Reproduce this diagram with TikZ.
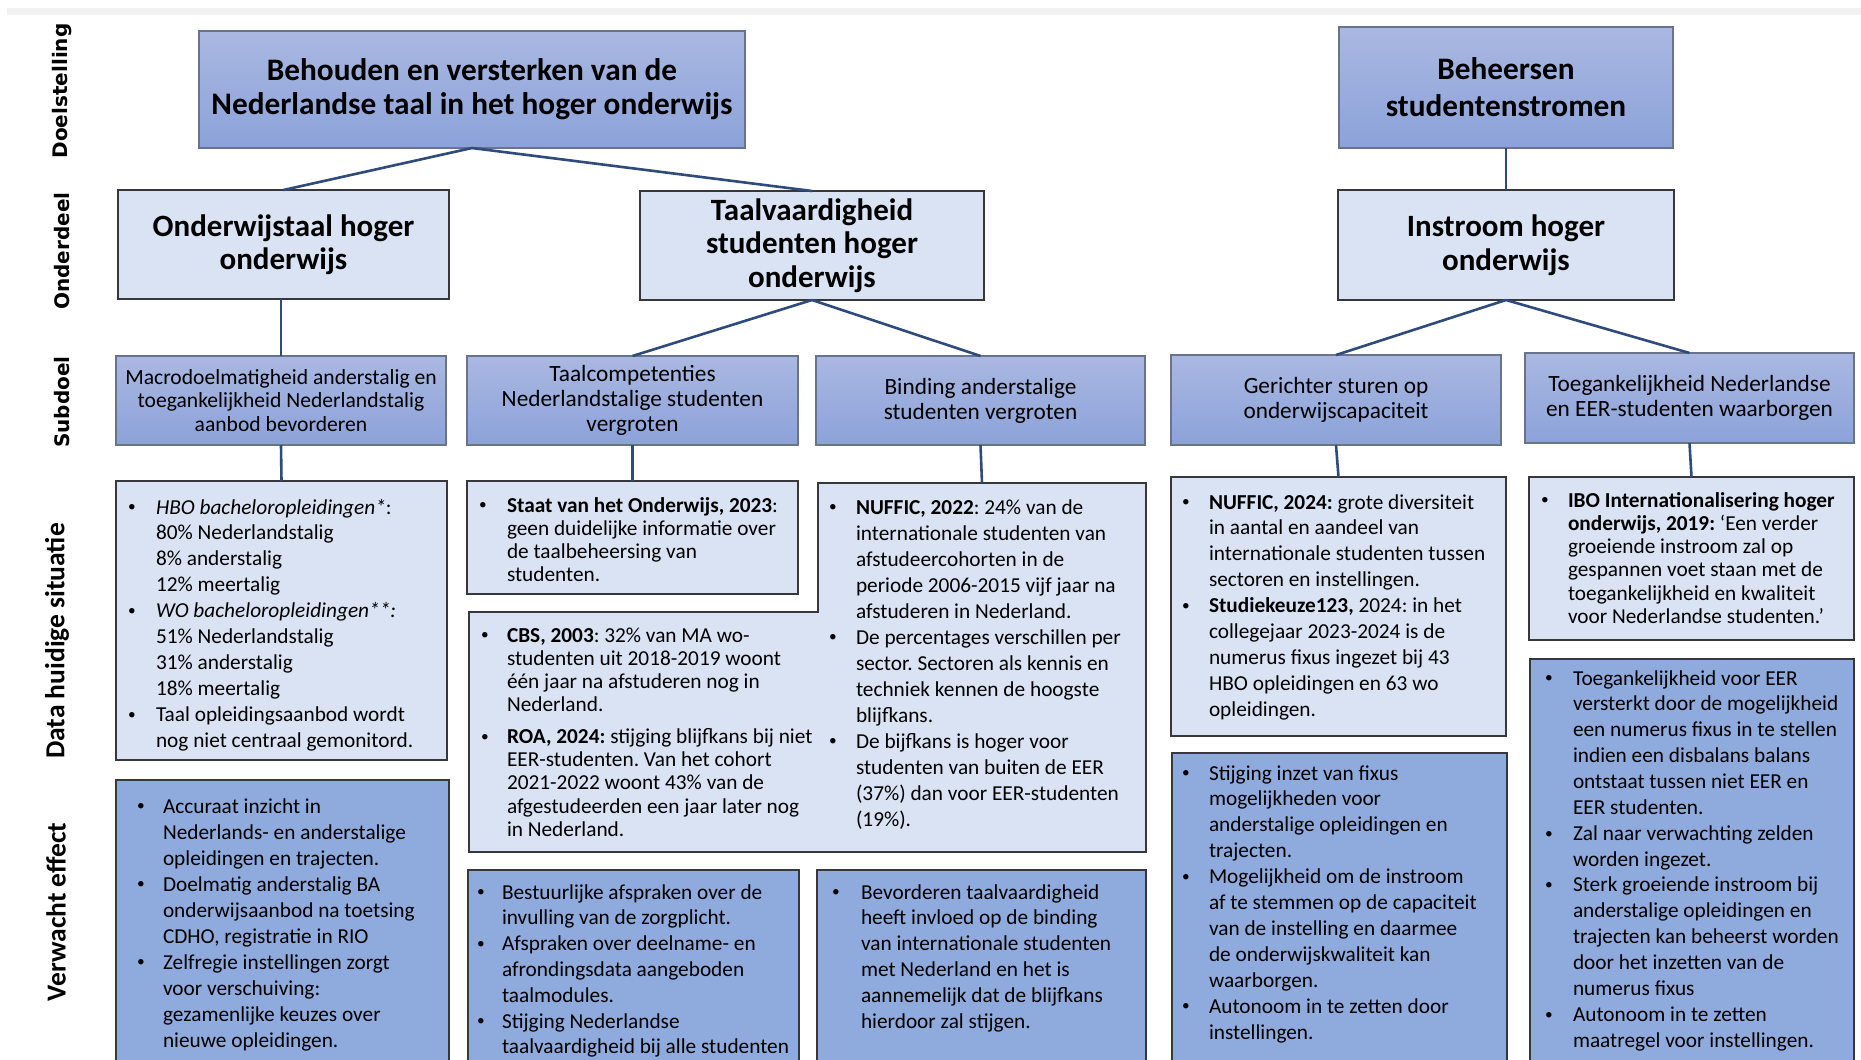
\documentclass[tikz,border=0pt]{standalone}
\usepackage{graphicx}
\usepackage{fontspec}
\setmainfont{Carlito}
\newfontfamily\rowfont{DejaVu Sans}
\definecolor{navy}{RGB}{47,75,124}
\definecolor{gtop}{RGB}{170,184,225}
\definecolor{gbot}{RGB}{139,162,217}
\definecolor{gbord}{RGB}{105,115,140}
\definecolor{lightfill}{RGB}{218,227,243}
\definecolor{efffill}{RGB}{143,170,220}
\definecolor{dbord}{RGB}{55,55,60}
\tikzset{
  gradbox/.style={draw=gbord, line width=1.5pt, top color=gtop, bottom color=gbot},
  lightbox/.style={draw=dbord, line width=2pt, fill=lightfill},
  effbox/.style={draw=dbord, line width=2pt, fill=efffill},
  conn/.style={draw=navy, line width=2.6pt},
  titlef/.style={font=\fontsize{31.3}{34}\selectfont\bfseries},
  titlefb/.style={font=\fontsize{31.3}{37}\selectfont\bfseries},
  partf/.style={font=\fontsize{31}{33.5}\selectfont\bfseries},
  subf/.style={font=\fontsize{23.3}{25}\selectfont},
  subfs/.style={font=\fontsize{21.6}{23.3}\selectfont},
  rowa/.style={font=\rowfont\bfseries\fontsize{20}{22}\selectfont, rotate=90},
  rowb/.style={font=\bfseries\fontsize{27.5}{30}\selectfont, rotate=90}
}
\newcommand{\bul}{\raisebox{0.1em}{\scalebox{0.72}{•}}}
% box: style, name, x1, y1, x2, y2, text
\newcommand{\bx}[7]{\node[#1, anchor=north west, minimum width={(#5-#3)*1pt}, minimum height={(#6-#4)*1pt}, align=center] (#2) at (#3,#4) {#7};}
% bullet list: name, x origin, baseline, leading, bullet column width, rows
\newcommand{\blist}[6]{\node[anchor=base west] (#1) at (#2,#3) {\fontsize{21.3}{#4}\selectfont\frenchspacing\begin{tabular}[t]{@{}p{#5pt}@{}l@{}}#6\end{tabular}};}
\begin{document}
\begin{tikzpicture}[x=1pt,y=-1pt, every node/.style={inner sep=0pt, outer sep=0pt}]
\useasboundingbox (0,0) rectangle (1861,1060);
\fill[white] (0,0) rectangle (1861,1060);
\fill[gray!11] (7,8) rectangle (1861,15);

% row labels
\node[rowa] (l1) at (62,91) {Doelstelling};
\node[rowa] (l2) at (62,251) {Onderdeel};
\node[rowa] (l3) at (62,402) {Subdoel};
\node[rowb] (l4) at (57,641) {Data huidige situatie};
\node[rowb] (l5) at (56,912) {Verwacht effect};

% top level
\bx{gradbox,titlef}{A}{199}{31}{745}{148}{Behouden en versterken van de\\Nederlandse taal in het hoger onderwijs}
\bx{gradbox,titlefb}{B}{1339}{27}{1673}{148}{Beheersen\\studentenstromen}

% onderdeel
\bx{lightbox,partf}{O1}{118}{190}{449}{299}{Onderwijstaal hoger\\onderwijs}
\bx{lightbox,partf}{O2}{640}{191}{984}{300}{Taalvaardigheid\\studenten hoger\\onderwijs}
\bx{lightbox,partf}{O3}{1338}{190}{1674}{300}{Instroom hoger\\onderwijs}

% subdoel
\bx{gradbox,subfs}{S1}{116}{356}{446}{445}{Macrodoelmatigheid anderstalig en\\toegankelijkheid Nederlandstalig\\aanbod bevorderen}
\bx{gradbox,subf}{S2}{467}{356}{798}{445}{Taalcompetenties\\Nederlandstalige studenten\\vergroten}
\bx{gradbox,subf}{S3}{816}{356}{1145}{445}{Binding anderstalige\\studenten vergroten}
\bx{gradbox,subf}{S4}{1171}{355}{1501}{445}{Gerichter sturen op\\onderwijscapaciteit}
\bx{gradbox,subf}{S5}{1525}{353}{1854}{443}{Toegankelijkheid Nederlandse\\en EER-studenten waarborgen}

% data boxes
\bx{lightbox}{D1}{116}{481}{447}{760}{}
\bx{lightbox}{D2}{467}{481}{798}{594}{}
\draw[lightbox] (818,483) -- (1146,483) -- (1146,852) -- (469,852) -- (469,612) -- (818,612) -- cycle;
\coordinate (D3) at (982,483);
\bx{lightbox}{D4}{1171}{477}{1506}{736}{}
\bx{lightbox}{D5}{1529}{477}{1854}{640}{}

% effect boxes
\bx{effbox}{E1}{116}{780}{449}{1075}{}
\bx{effbox}{E2}{468}{870}{799}{1075}{}
\bx{effbox}{E3}{817}{870}{1146}{1075}{}
\bx{effbox}{E4}{1172}{753}{1507}{1075}{}
\bx{effbox}{E5}{1530}{659}{1854}{1075}{}

% connectors
\draw[conn] (A.south) -- (O1.north);
\draw[conn] (A.south) -- (O2.north);
\draw[conn] (B.south) -- (O3.north);
\draw[conn] (S1.north |- O1.south) -- (S1.north);
\draw[conn] (O2.south) -- (S2.north);
\draw[conn] (O2.south) -- (S3.north);
\draw[conn] (O3.south) -- (S4.north);
\draw[conn] (O3.south) -- (S5.north);
\draw[conn] (S1.south) -- (D1.north);
\draw[conn] (S2.south) -- (D2.north);
\draw[conn] (S3.south) -- (D3);
\draw[conn] (S4.south) -- (D4.north);
\draw[conn] (S5.south) -- (D5.north);

% data texts
\blist{t1}{128.2}{514}{25.9}{27.8}{%
\bul & \textit{HBO bacheloropleidingen*}:\\
  & 80\% Nederlandstalig\\
  & 8\% anderstalig\\
  & 12\% meertalig\\
\bul & \textit{WO bacheloropleidingen**:}\\
  & 51\% Nederlandstalig\\
  & 31\% anderstalig\\
  & 18\% meertalig\\
\bul & Taal opleidingsaanbod wordt\\
  & nog niet centraal gemonitord.}
\blist{t2}{479.2}{512}{23.3}{27.8}{%
\bul & \textbf{Staat van het Onderwijs, 2023}:\\
  & geen duidelijke informatie over\\
  & de taalbeheersing van\\
  & studenten.}
\blist{t3}{481.2}{642}{23.3}{25.8}{%
\bul & \textbf{CBS, 2003}: 32\% van MA wo-\\
  & studenten uit 2018-2019 woont\\
  & één jaar na afstuderen nog in\\
  & Nederland.\\[8pt]
\bul & \textbf{ROA, 2024:} stijging blijfkans bij niet\\
  & EER-studenten. Van het cohort\\
  & 2021-2022 woont 43\% van de\\
  & afgestudeerden een jaar later nog\\
  & in Nederland.}
\blist{t4}{829.2}{514}{26}{26.8}{%
\bul & \textbf{NUFFIC, 2022}: 24\% van de\\
  & internationale studenten van\\
  & afstudeercohorten in de\\
  & periode 2006-2015 vijf jaar na\\
  & afstuderen in Nederland.\\
\bul & De percentages verschillen per\\
  & sector. Sectoren als kennis en\\
  & techniek kennen de hoogste\\
  & blijfkans.\\
\bul & De bijfkans is hoger voor\\
  & studenten van buiten de EER\\
  & (37\%) dan voor EER-studenten\\
  & (19\%).}
\blist{t5}{1182.2}{509}{25.9}{26.8}{%
\bul & \textbf{NUFFIC, 2024:} grote diversiteit\\
  & in aantal en aandeel van\\
  & internationale studenten tussen\\
  & sectoren en instellingen.\\
\bul & \textbf{Studiekeuze123,} 2024: in het\\
  & collegejaar 2023-2024 is de\\
  & numerus fixus ingezet bij 43\\
  & HBO opleidingen en 63 wo\\
  & opleidingen.}
\blist{t6}{1541.2}{507}{23.3}{26.8}{%
\bul & \textbf{IBO Internationalisering hoger}\\
  & \textbf{onderwijs, 2019:} ‘Een verder\\
  & groeiende instroom zal op\\
  & gespannen voet staan met de\\
  & toegankelijkheid en kwaliteit\\
  & voor Nederlandse studenten.’}

% effect texts
\blist{e1}{137.2}{813}{26}{25.8}{%
\bul & Accuraat inzicht in\\
  & Nederlands- en anderstalige\\
  & opleidingen en trajecten.\\
\bul & Doelmatig anderstalig BA\\
  & onderwijsaanbod na toetsing\\
  & CDHO, registratie in RIO\\
\bul & Zelfregie instellingen zorgt\\
  & voor verschuiving:\\
  & gezamenlijke keuzes over\\
  & nieuwe opleidingen.}
\blist{e2}{477.2}{899}{25.8}{24.8}{%
\bul & Bestuurlijke afspraken over de\\
  & invulling van de zorgplicht.\\
\bul & Afspraken over deelname- en\\
  & afrondingsdata aangeboden\\
  & taalmodules.\\
\bul & Stijging Nederlandse\\
  & taalvaardigheid bij alle studenten}
\blist{e3}{832.2}{899}{25.8}{28.8}{%
\bul & Bevorderen taalvaardigheid\\
  & heeft invloed op de binding\\
  & van internationale studenten\\
  & met Nederland en het is\\
  & aannemelijk dat de blijfkans\\
  & hierdoor zal stijgen.}
\blist{e4}{1182.2}{780}{25.9}{26.8}{%
\bul & Stijging inzet van fixus\\
  & mogelijkheden voor\\
  & anderstalige opleidingen en\\
  & trajecten.\\
\bul & Mogelijkheid om de instroom\\
  & af te stemmen op de capaciteit\\
  & van de instelling en daarmee\\
  & de onderwijskwaliteit kan\\
  & waarborgen.\\
\bul & Autonoom in te zetten door\\
  & instellingen.}
\blist{e5}{1545.2}{685}{25.86}{27.8}{%
\bul & Toegankelijkheid voor EER\\
  & versterkt door de mogelijkheid\\
  & een numerus fixus in te stellen\\
  & indien een disbalans balans\\
  & ontstaat tussen niet EER en\\
  & EER studenten.\\
\bul & Zal naar verwachting zelden\\
  & worden ingezet.\\
\bul & Sterk groeiende instroom bij\\
  & anderstalige opleidingen en\\
  & trajecten kan beheerst worden\\
  & door het inzetten van de\\
  & numerus fixus\\
\bul & Autonoom in te zetten\\
  & maatregel voor instellingen.}
\end{tikzpicture}
\end{document}
